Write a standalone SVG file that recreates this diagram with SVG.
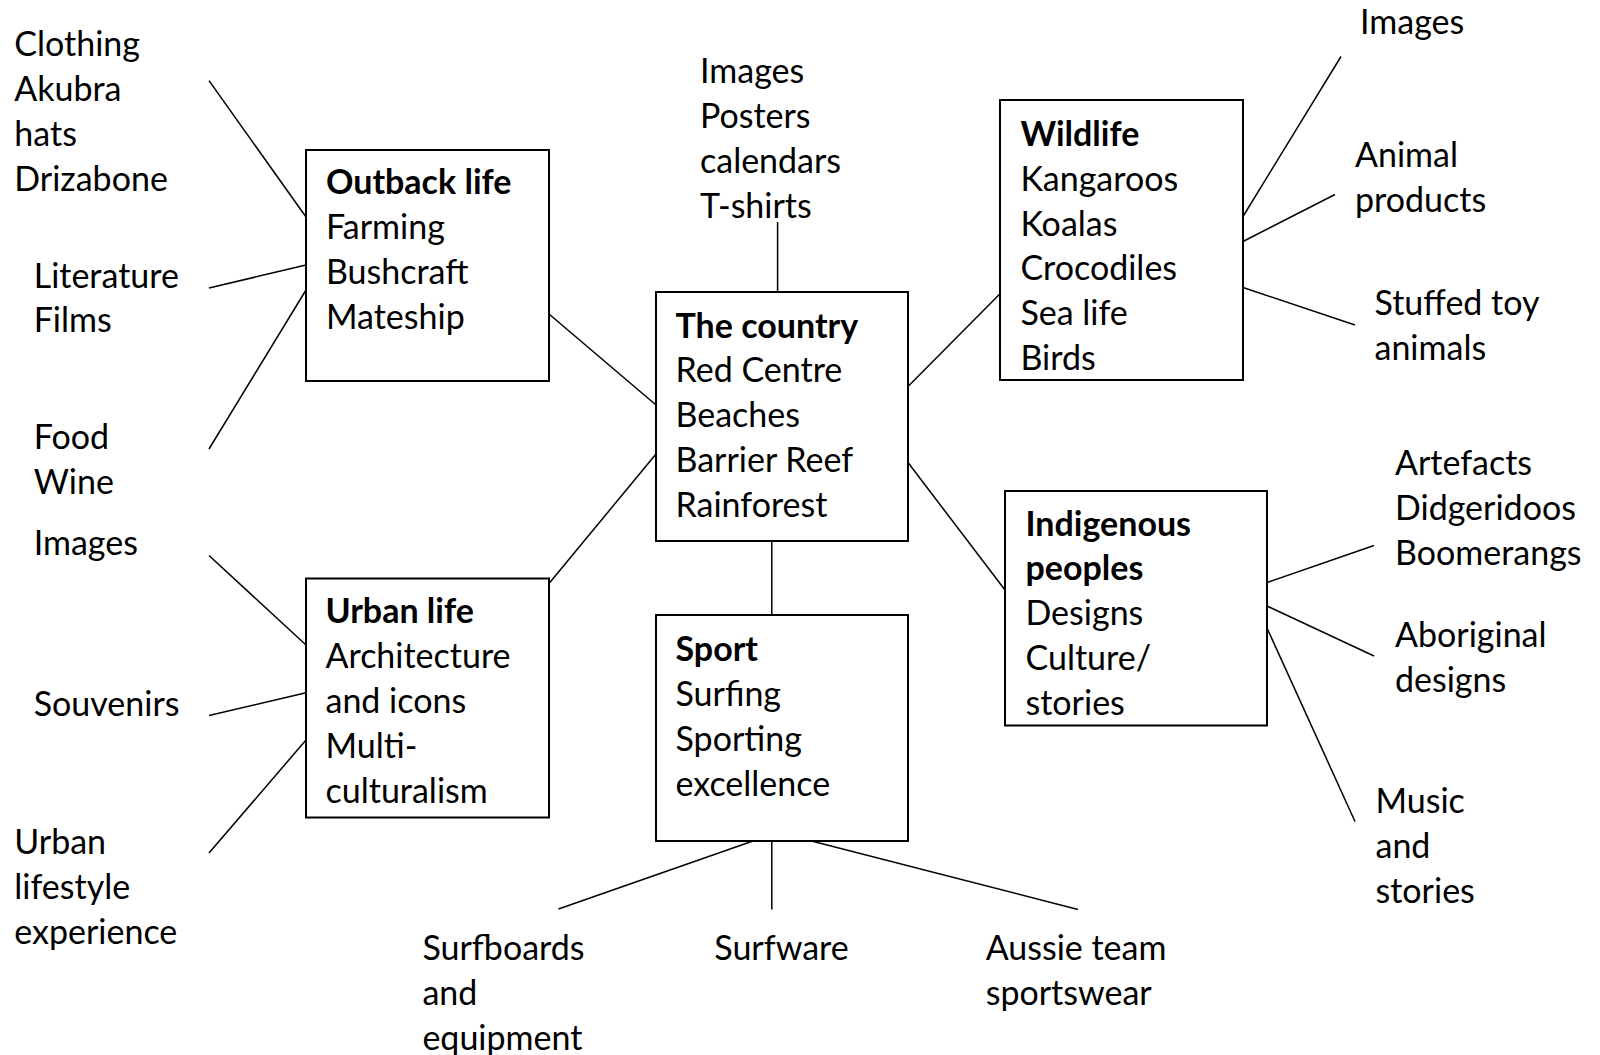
<svg xmlns="http://www.w3.org/2000/svg" width="1600" height="1055" viewBox="0 0 1600 1055">
<style>
.t{font-family:Lato,"Liberation Sans",sans-serif;font-size:34px;fill:#000}
.b{font-weight:bold}
.box{fill:#fff;stroke:#000;stroke-width:2}
.ln{stroke:#000;stroke-width:1.5;fill:none}
</style>
<rect width="1600" height="1055" fill="#fff"/>
<g id="connectors" class="ln">
<line x1="209" y1="80.6" x2="306" y2="217"/>
<line x1="209" y1="288" x2="306" y2="265"/>
<line x1="209" y1="449" x2="306" y2="290"/>
<line x1="549" y1="314" x2="656" y2="405"/>
<line x1="777.6" y1="222" x2="777.6" y2="292"/>
<line x1="908" y1="386.5" x2="1005" y2="288.7"/>
<line x1="908" y1="462.5" x2="1005" y2="590"/>
<line x1="656" y1="454" x2="549" y2="583.5"/>
<line x1="771.8" y1="541" x2="771.8" y2="617"/>
<line x1="1243" y1="216.5" x2="1341" y2="56.5"/>
<line x1="1243" y1="241.5" x2="1335" y2="194.5"/>
<line x1="1243" y1="287.5" x2="1355" y2="325"/>
<line x1="1267" y1="582.5" x2="1374" y2="545.5"/>
<line x1="1267" y1="606" x2="1374" y2="656"/>
<line x1="1267" y1="628" x2="1355" y2="821.5"/>
<line x1="209" y1="555.5" x2="306" y2="645"/>
<line x1="209" y1="715.5" x2="306" y2="692.8"/>
<line x1="209" y1="853" x2="306" y2="740"/>
<line x1="753" y1="841" x2="558.5" y2="909"/>
<line x1="771.8" y1="841" x2="771.8" y2="909.5"/>
<line x1="811.5" y1="841" x2="1078" y2="909.5"/>
</g>
<g id="outback">
<rect class="box" x="306" y="150" width="243" height="231"/>
<text class="t" x="326" y="194"><tspan class="b">Outback life</tspan><tspan x="326" dy="44.9">Farming</tspan><tspan x="326" dy="44.9">Bushcraft</tspan><tspan x="326" dy="44.9">Mateship</tspan></text>
</g>
<g id="country">
<rect class="box" x="656" y="292" width="252" height="249"/>
<text class="t" x="675.5" y="337.5"><tspan class="b">The country</tspan><tspan x="675.5" dy="44.9">Red Centre</tspan><tspan x="675.5" dy="44.9">Beaches</tspan><tspan x="675.5" dy="44.9">Barrier Reef</tspan><tspan x="675.5" dy="44.9">Rainforest</tspan></text>
</g>
<g id="wildlife">
<rect class="box" x="1000" y="100" width="243" height="280"/>
<text class="t" x="1020.4" y="145.7"><tspan class="b">Wildlife</tspan><tspan x="1020.4" dy="44.9">Kangaroos</tspan><tspan x="1020.4" dy="44.9">Koalas</tspan><tspan x="1020.4" dy="44.9">Crocodiles</tspan><tspan x="1020.4" dy="44.9">Sea life</tspan><tspan x="1020.4" dy="44.9">Birds</tspan></text>
</g>
<g id="indigenous">
<rect class="box" x="1005" y="491" width="262" height="234.5"/>
<text class="t" x="1025.5" y="535.5"><tspan class="b">Indigenous</tspan><tspan class="b" x="1025.5" dy="44.9">peoples</tspan><tspan x="1025.5" dy="44.9">Designs</tspan><tspan x="1025.5" dy="44.9">Culture/</tspan><tspan x="1025.5" dy="44.9">stories</tspan></text>
</g>
<g id="urban">
<rect class="box" x="306" y="578.5" width="243" height="239"/>
<text class="t" x="325.5" y="623.2"><tspan class="b">Urban life</tspan><tspan x="325.5" dy="44.9">Architecture</tspan><tspan x="325.5" dy="44.9">and icons</tspan><tspan x="325.5" dy="44.9">Multi-</tspan><tspan x="325.5" dy="44.9">culturalism</tspan></text>
</g>
<g id="sport">
<rect class="box" x="656" y="615" width="252" height="226"/>
<text class="t" x="675.5" y="661"><tspan class="b">Sport</tspan><tspan x="675.5" dy="44.9">Surfing</tspan><tspan x="675.5" dy="44.9">Sporting</tspan><tspan x="675.5" dy="44.9">excellence</tspan></text>
</g>
<g id="clothing"><text class="t" x="14.3" y="55.9"><tspan>Clothing</tspan><tspan x="14.3" dy="44.9">Akubra</tspan><tspan x="14.3" dy="44.9">hats</tspan><tspan x="14.3" dy="44.9">Drizabone</tspan></text></g>
<g id="literature"><text class="t" x="33.7" y="287.5"><tspan>Literature</tspan><tspan x="33.7" dy="44.9">Films</tspan></text></g>
<g id="food"><text class="t" x="33.7" y="448.7"><tspan>Food</tspan><tspan x="33.7" dy="44.9">Wine</tspan></text></g>
<g id="images-left"><text class="t" x="33.7" y="554.9">Images</text></g>
<g id="souvenirs"><text class="t" x="33.7" y="716.1">Souvenirs</text></g>
<g id="urban-lifestyle"><text class="t" x="14.3" y="853.8"><tspan>Urban</tspan><tspan x="14.3" dy="44.9">lifestyle</tspan><tspan x="14.3" dy="44.9">experience</tspan></text></g>
<g id="images-top"><text class="t" x="700" y="83.4"><tspan>Images</tspan><tspan x="700" dy="44.9">Posters</tspan><tspan x="700" dy="44.9">calendars</tspan><tspan x="700" dy="44.9">T-shirts</tspan></text></g>
<g id="images-right"><text class="t" x="1360" y="34.4">Images</text></g>
<g id="animal-products"><text class="t" x="1355" y="167.1"><tspan>Animal</tspan><tspan x="1355" dy="44.9">products</tspan></text></g>
<g id="stuffed-toy"><text class="t" x="1374.5" y="315"><tspan>Stuffed toy</tspan><tspan x="1374.5" dy="44.9">animals</tspan></text></g>
<g id="artefacts"><text class="t" x="1395" y="475.3"><tspan>Artefacts</tspan><tspan x="1395" dy="44.9">Didgeridoos</tspan><tspan x="1395" dy="44.9">Boomerangs</tspan></text></g>
<g id="aboriginal"><text class="t" x="1395" y="646.7"><tspan>Aboriginal</tspan><tspan x="1395" dy="44.9">designs</tspan></text></g>
<g id="music"><text class="t" x="1375.5" y="813"><tspan>Music</tspan><tspan x="1375.5" dy="44.9">and</tspan><tspan x="1375.5" dy="44.9">stories</tspan></text></g>
<g id="surfboards"><text class="t" x="422.4" y="960"><tspan>Surfboards</tspan><tspan x="422.4" dy="44.9">and</tspan><tspan x="422.4" dy="44.9">equipment</tspan></text></g>
<g id="surfware"><text class="t" x="714.3" y="960">Surfware</text></g>
<g id="aussie"><text class="t" x="985.7" y="960"><tspan>Aussie team</tspan><tspan x="985.7" dy="44.9">sportswear</tspan></text></g>
</svg>
